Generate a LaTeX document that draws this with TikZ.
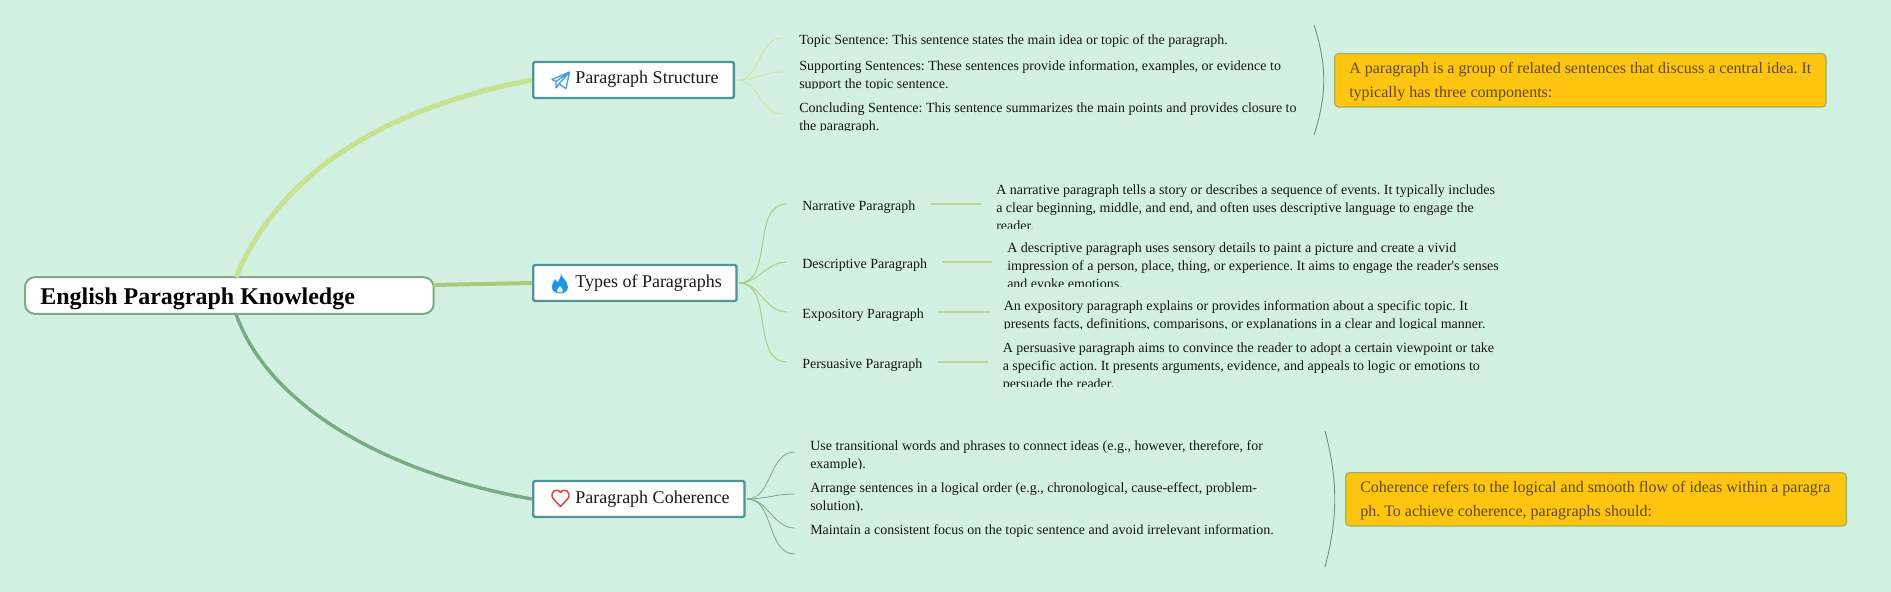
\documentclass[tikz,border=0pt]{standalone}
\usepackage{fontspec}
\setmainfont{Liberation Serif}[Ligatures=TeXOff]
\usetikzlibrary{arrows.meta}

\definecolor{bgmint}{HTML}{D3F1E2}
\definecolor{boxteal}{HTML}{4F939B}
\definecolor{rootline}{HTML}{82A888}
\definecolor{limeline}{HTML}{C5E391}
\definecolor{midline}{HTML}{A6CC7F}
\definecolor{darkline}{HTML}{79AB84}
\definecolor{callfill}{HTML}{FFC510}
\definecolor{callline}{HTML}{9DB45E}
\definecolor{calltext}{HTML}{5A4A20}
\definecolor{planeblue}{HTML}{3FA0DC}
\definecolor{flameblue}{HTML}{1E96E6}
\definecolor{heartred}{HTML}{D6453A}

\tikzset{
    rootbox/.style={draw=rootline, line width=1.5pt, fill=white, rounded corners=7.5pt, minimum width=306.5pt, minimum height=27.5pt, inner sep=0pt, anchor=west},
    topicbox/.style={draw=boxteal, line width=1.8pt, fill=white, rounded corners=1.5pt, minimum height=27pt, inner sep=0pt, anchor=west},
    topictext/.style={inner sep=0pt, anchor=base west, font=\fontsize{13.5}{16}\selectfont, text=black!90},
    itemtext/.style={inner sep=0pt, anchor=north west, align=left, font=\fontsize{10.5}{13.5}\selectfont, text=black!92},
    callbox/.style={draw=callline, line width=1pt, fill=callfill, rounded corners=3pt, inner sep=0pt, anchor=north west},
    calltxt/.style={inner sep=0pt, anchor=north west, align=left, font=\fontsize{12}{18}\selectfont, text=calltext},
    twigA/.style={draw=limeline!85, line width=0.7pt},
    twigB/.style={draw=midline, line width=0.7pt},
    twigC/.style={draw=darkline, line width=0.6pt},
    dash line/.style={draw=midline!80, line width=1.1pt},
    brace line/.style={draw=darkline!90!black, line width=0.7pt},
}

% name, x, first baseline, clip bottom, clip right, text
\newcommand{\cliptext}[6]{
    \begin{scope}
        \clip (#2-2,#3-14) rectangle (#5,#4);
        \node[itemtext] (#1) at (#2,#3-9.6) {#6};
    \end{scope}
}

\begin{document}
\frenchspacing
\begin{tikzpicture}[x=0.75pt, y=-0.75pt]
    \useasboundingbox (0,0) rectangle (1891,592);
    \fill[bgmint] (0,0) rectangle (1891,592);

    % root and topics
    \node[rootbox] (root) at (24,295.5) {};
    \node[inner sep=0pt, anchor=base west, font=\fontsize{18}{22}\selectfont\bfseries] (rootlabel) at (40,304) {English Paragraph Knowledge};
    \node[topicbox, minimum width=150.5pt] (s1) at (532,80) {};
    \node[topicbox, minimum width=152.5pt] (s2) at (532,283) {};
    \node[topicbox, minimum width=158.5pt] (s3) at (532,499) {};
    \node[topictext] (s1label) at (575,84) {Paragraph Structure};
    \node[topictext] (s2label) at (575,287) {Types of Paragraphs};
    \node[topictext] (s3label) at (575,503) {Paragraph Coherence};

    % icons
    \draw[planeblue, line width=1pt, line join=round] (552,79.5) -- (569.5,72) -- (566,88.5) -- (559,84) -- (556,88) -- (556,81.5) -- cycle (556,81.5) -- (569.5,72) -- (559,84);
    \fill[flameblue] (561,273) .. controls (561,277) and (565,279) .. (567,283) .. controls (570,289) and (566,293.5) .. (560,293.5) .. controls (554,293.5) and (550,289) .. (552.5,284) .. controls (553.5,282) and (554.5,281) .. (555,279) .. controls (556.5,280) and (557,281) .. (557.5,282.5) .. controls (559.5,280) and (561,277) .. (561,273) -- cycle;
    \fill[bgmint!60!white] (560,286) .. controls (561,288) and (563.5,289) .. (563,291) .. controls (562.5,293) and (557.5,293) .. (557,291) .. controls (556.5,289) and (559,288) .. (560,286) -- cycle;
    \draw[heartred, line width=1.1pt, line join=round] (560.5,506.5) -- (553,498.5) .. controls (549,492) and (557,487) .. (560.5,492.5) .. controls (564,487) and (572,492) .. (568,498.5) -- cycle;

    % first group
    \cliptext{s1a}{799}{44}{49}{1300}{Topic Sentence: This sentence states the main idea or topic of the paragraph.}
    \cliptext{s1b}{799}{70}{88.5}{1300}{Supporting Sentences: These sentences provide information, examples, or evidence to\\support the topic sentence.}
    \cliptext{s1c}{799}{112}{130.5}{1300}{Concluding Sentence: This sentence summarizes the main points and provides closure to\\the paragraph.}

    % second group
    \cliptext{s2a}{802}{210}{212}{930}{Narrative Paragraph}
    \cliptext{s2b}{802}{268}{270}{940}{Descriptive Paragraph}
    \cliptext{s2c}{802}{318}{320}{935}{Expository Paragraph}
    \cliptext{s2d}{802}{368}{370}{935}{Persuasive Paragraph}
    \cliptext{s2ax}{996}{194}{228}{1520}{A narrative paragraph tells a story or describes a sequence of events. It typically includes\\a clear beginning, middle, and end, and often uses descriptive language to engage the\\reader.}
    \cliptext{s2bx}{1007}{252}{286}{1520}{A descriptive paragraph uses sensory details to paint a picture and create a vivid\\impression of a person, place, thing, or experience. It aims to engage the reader's senses\\and evoke emotions.}
    \cliptext{s2cx}{1003.5}{310}{328.5}{1520}{An expository paragraph explains or provides information about a specific topic. It\\presents facts, definitions, comparisons, or explanations in a clear and logical manner.}
    \cliptext{s2dx}{1002.5}{352}{386}{1520}{A persuasive paragraph aims to convince the reader to adopt a certain viewpoint or take\\a specific action. It presents arguments, evidence, and appeals to logic or emotions to\\persuade the reader.}

    % third group
    \cliptext{s3a}{810}{450}{468.5}{1300}{Use transitional words and phrases to connect ideas (e.g., however, therefore, for\\example).}
    \cliptext{s3b}{810}{492}{510.5}{1300}{Arrange sentences in a logical order (e.g., chronological, cause-effect, problem-\\solution).}
    \cliptext{s3c}{810}{534}{539}{1300}{Maintain a consistent focus on the topic sentence and avoid irrelevant information.}

    % callouts
    \node[callbox, minimum width=368.5pt, minimum height=40pt] (note1) at (1334,53) {};
    \node[callbox, minimum width=375.5pt, minimum height=40pt] (note2) at (1345,472) {};
    \node[calltxt] (note1text) at (1349,62) {A paragraph is a group of related sentences that discuss a central idea. It\\typically has three components:};
    \node[calltxt] (note2text) at (1360,481) {Coherence refers to the logical and smooth flow of ideas within a paragra\\ph. To achieve coherence, paragraphs should:};

    % free ends
    \coordinate (r1) at (236,277);
    \coordinate (r2) at (433,285);
    \coordinate (r3) at (236,314);
    \coordinate (e1a) at (783,38);
    \coordinate (e1b) at (783,72);
    \coordinate (e1c) at (783,114);
    \coordinate (e2a) at (787,204);
    \coordinate (e2b) at (787,262);
    \coordinate (e2c) at (787,312);
    \coordinate (e2d) at (787,362);
    \coordinate (e3a) at (795,452);
    \coordinate (e3b) at (795,494);
    \coordinate (e3c) at (795,528);
    \coordinate (e3d) at (795,554);

    \draw[limeline, line width=3.8pt] (r1) .. controls (280,172) and (385,108) .. (s1.west);
    \draw[midline, line width=3pt] (r2) -- (s2.west);
    \draw[darkline, line width=2.6pt] (r3) .. controls (268,405) and (385,473) .. (s3.west);

    \foreach \e in {e1a,e1b,e1c}
        \draw[twigA, shorten <=2pt] (s1.east) to[out=0, in=180] (\e);
    \foreach \e in {e2a,e2b,e2c,e2d}
        \draw[twigB, shorten <=1pt] (s2.east) to[out=0, in=180] (\e);
    \foreach \e in {e3a,e3b,e3c,e3d}
        \draw[twigC, shorten <=1pt] (s3.east) to[out=0, in=180] (\e);

    \coordinate (d2a) at (931,204);
    \coordinate (d2b) at (942,262);
    \coordinate (d2c) at (939,312);
    \coordinate (d2d) at (938,362);
    \coordinate (f2a) at (981,204);
    \coordinate (f2b) at (992,262);
    \coordinate (f2c) at (989,312);
    \coordinate (f2d) at (988,362);
    \foreach \a/\b in {d2a/f2a,d2b/f2b,d2c/f2c,d2d/f2d}
        \draw[dash line] (\a) -- (\b);

    \coordinate (b1a) at (1314,25);
    \coordinate (b1b) at (1314,135);
    \coordinate (b3a) at (1325,431);
    \coordinate (b3b) at (1325,567);
    \draw[brace line] (b1a) .. controls (1327,65) and (1327,95) .. (b1b);
    \draw[brace line] (b3a) .. controls (1338,480) and (1338,518) .. (b3b);
\end{tikzpicture}
\end{document}
